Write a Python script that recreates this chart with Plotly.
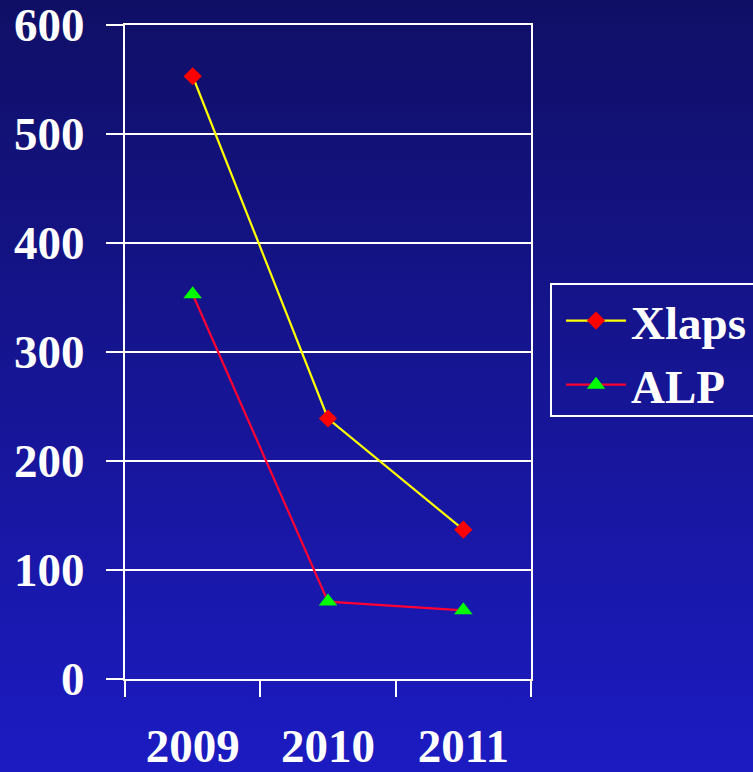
import base64
import plotly.graph_objects as go

# Yearly counts per series
years = ["2009", "2010", "2011"]
xlaps = [553, 239, 137]
alp = [353, 71, 63]
y_ticks = [0, 100, 200, 300, 400, 500, 600]

W, H = 753, 772
L, R, T, B = 125, 222, 25, 93
pw, ph = W - L - R, H - T - B

font_family = "Liberation Serif, Times New Roman, serif"
FS = 47


def px_x(px):
    return (px - L) / pw


def px_y(py):
    return (H - B - py) / ph


# Vertical navy-to-blue gradient for the whole page
svg = (
    f'<svg xmlns="http://www.w3.org/2000/svg" width="{W}" height="{H}" preserveAspectRatio="none">'
    '<defs><linearGradient id="g" x1="0" y1="0" x2="0" y2="1">'
    '<stop offset="0" stop-color="#100f66"/>'
    '<stop offset="1" stop-color="#1c1bc2"/>'
    '</linearGradient></defs>'
    f'<rect width="{W}" height="{H}" fill="url(#g)"/></svg>'
)
bg_uri = "data:image/svg+xml;base64," + base64.b64encode(svg.encode()).decode()

fig = go.Figure()
fig.add_trace(go.Scatter(
    x=years, y=xlaps, name="Xlaps", mode="lines+markers",
    line=dict(color="#ffff00", width=2.2),
    marker=dict(symbol="diamond", size=14, color="#ff0000"),
))
fig.add_trace(go.Scatter(
    x=years, y=alp, name="ALP", mode="lines+markers",
    line=dict(color="#ff0033", width=2.2),
    marker=dict(symbol="triangle-up", size=16, color="#00ff00"),
))

# Legend frame, running off the right edge of the page
fig.add_shape(
    type="rect", xref="paper", yref="paper",
    x0=px_x(551), x1=px_x(770), y0=px_y(416), y1=px_y(284),
    line=dict(color="white", width=2), fillcolor="rgba(0,0,0,0)",
)

fig.update_layout(
    width=W, height=H,
    margin=dict(l=L, r=R, t=T, b=B, pad=0, autoexpand=False),
    paper_bgcolor="rgba(0,0,0,0)",
    plot_bgcolor="rgba(0,0,0,0)",
    font=dict(family=font_family, size=FS, color="white"),
    images=[dict(
        source=bg_uri, xref="paper", yref="paper",
        x=-L / pw, y=1 + T / ph, sizex=W / pw, sizey=H / ph,
        xanchor="left", yanchor="top", sizing="stretch", layer="below",
    )],
    xaxis=dict(
        type="category", range=[-0.5, 2.5], tickson="boundaries", automargin=False,
        ticks="outside", ticklen=16, tickwidth=2, tickcolor="white",
        showline=True, linecolor="white", linewidth=2, mirror=True,
        showgrid=False, zeroline=False,
        ticklabelstandoff=25, ticklabeloverflow="allow",
        tickfont=dict(family=font_family, size=FS, color="white", weight="bold"),
    ),
    yaxis=dict(
        range=[0, 600], tickvals=y_ticks, automargin=False,
        ticks="outside", ticklen=17, tickwidth=2, tickcolor="white",
        showline=True, linecolor="white", linewidth=2, mirror=True,
        showgrid=True, gridcolor="white", gridwidth=2, zeroline=False,
        ticklabelstandoff=12, ticklabeloverflow="allow",
        tickfont=dict(family=font_family, size=FS, color="white", weight="bold"),
    ),
    legend=dict(
        x=px_x(561), xanchor="left",
        y=px_y(353), yanchor="middle",
        bgcolor="rgba(0,0,0,0)", borderwidth=0,
        font=dict(family=font_family, size=FS, color="white", weight="bold"),
        tracegroupgap=0, itemwidth=60,
    ),
)

fig.write_html("out.html")
